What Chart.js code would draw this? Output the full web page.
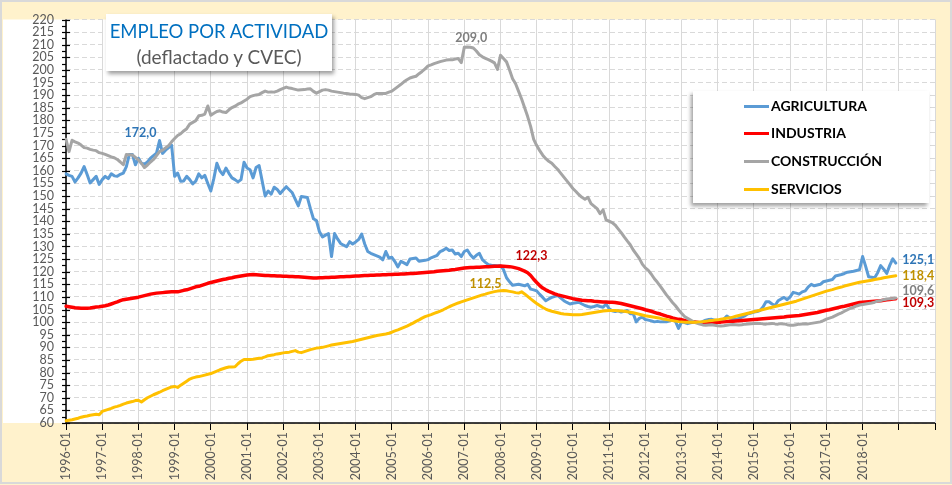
<!DOCTYPE html>
<html>
<head>
<meta charset="utf-8">
<script src="https://cdn.jsdelivr.net/npm/chart.js@4.4.1/dist/chart.umd.min.js"></script>
<style>
html,body{margin:0;padding:0;background:#ffffff;}
#wrap{position:relative;width:952px;height:485px;overflow:hidden;}
#chart{position:absolute;left:0;top:0;}
#titlebox{position:absolute;left:106px;top:14px;width:226px;height:57px;background:#ffffff;
  box-shadow:2px 3px 4px rgba(0,0,0,0.38);font-family:Lato,sans-serif;text-align:center;}
#t1{position:absolute;left:0;top:6px;width:100%;height:22px;line-height:22px;font-size:18.5px;color:#0070C0;white-space:nowrap;}
#t2{position:absolute;left:0;top:31px;width:100%;height:24px;line-height:24px;font-size:19px;color:#595959;white-space:nowrap;}
#legend{position:absolute;left:693px;top:91px;width:236px;height:112px;background:#ffffff;
  box-shadow:-2px 3px 4px rgba(0,0,0,0.38);font-family:Lato,sans-serif;}
.li{position:absolute;left:0;width:100%;height:20px;}
.ls{position:absolute;left:51px;top:8.5px;width:25px;height:3px;}
.lt{position:absolute;left:78px;top:0;height:20px;line-height:20px;font-size:14px;font-weight:bold;color:#000;white-space:nowrap;}
</style>
</head>
<body>
<div id="wrap">
  <canvas id="chart" width="952" height="485"></canvas>
  <div id="titlebox"><div id="t1">EMPLEO POR ACTIVIDAD</div><div id="t2">(deflactado y CVEC)</div></div>
  <div id="legend"></div>
</div>
<script>
// ---- categories ----
const years = [1996,1997,1998,1999,2000,2001,2002,2003,2004,2005,2006,2007,2008,2009,2010,2011,2012,2013,2014,2015,2016,2017,2018,2019];
const months = ['01','02','03','04','05','06','07','08','09','10','11','12'];
const categories = [];
years.forEach(y => months.forEach(m => categories.push(y + '-' + m)));
categories.push('2020-01');

// ---- tick labels shown ----
const tickLabels = ['1996-01','1997-01','1998-01','1999-01','2000-01','2001-01','2002-01','2003-01','2004-01','2005-01','2006-01','2007-01','2008-01','2009-01','2010-01','2011-01','2012-01','2013-01','2014-01','2015-01','2016-01','2017-01','2018-01'];

// ---- series (monthly, 1996-01 .. 2018-12) ----
const agricultura = [
158.8,158.2,157.8,155.6,157.2,159.1,161.7,158.5,155.2,156.5,157.8,154.6,
156.5,157.8,156.9,158.8,158.0,157.8,158.6,159.1,161.7,166.5,166.5,162.4,
165.0,163.0,162.6,163.5,165.0,166.0,167.0,172.0,166.9,168.2,169.2,170.2,
157.8,159.1,155.9,156.0,157.8,156.5,154.8,155.9,158.8,157.2,158.2,155.0,
152.0,157.0,163.0,160.0,158.5,161.1,159.0,157.2,156.5,155.6,156.5,163.4,
161.1,160.4,157.2,161.3,162.1,156.0,150.0,152.0,150.7,153.5,152.6,151.0,
152.4,153.7,152.5,151.3,148.7,146.1,149.8,149.6,149.4,145.0,141.0,140.3,
135.8,133.8,134.5,135.1,126.0,135.1,133.0,131.2,130.5,129.9,131.9,131.0,
131.8,132.8,134.9,131.0,128.0,127.3,126.8,126.3,125.8,124.7,128.0,125.4,
125.7,124.0,121.9,124.1,123.5,122.8,125.0,125.2,125.4,124.1,124.3,124.5,
124.8,125.5,126.0,126.5,128.0,128.5,129.3,128.4,128.6,127.0,127.3,126.0,
128.0,128.6,126.7,125.4,126.5,127.3,124.8,123.7,122.8,122.6,122.5,122.4,
122.4,120.8,117.6,116.0,114.6,114.8,115.0,114.7,114.4,115.0,113.1,112.8,
112.4,111.0,109.8,108.5,109.2,109.8,110.2,110.5,109.5,108.5,107.8,107.2,
107.5,107.7,107.9,107.2,106.6,106.2,105.9,106.2,106.6,106.2,105.9,107.2,
105.3,104.5,104.2,104.5,104.0,104.3,104.6,103.3,103.3,100.1,101.5,102.0,
101.0,100.8,100.5,100.1,100.3,100.1,100.2,100.1,100.5,100.8,100.3,97.5,
100.1,99.8,99.4,99.7,100.1,99.9,99.7,100.2,100.8,101.0,101.1,100.8,
100.4,100.8,101.1,102.4,101.6,101.4,101.1,101.5,102.0,102.5,103.3,103.6,
104.0,104.2,104.6,106.0,108.1,108.1,107.2,106.6,108.5,109.2,109.8,108.9,
110.0,111.8,111.5,111.1,112.0,112.4,114.0,115.0,114.4,114.7,115.0,116.0,
116.3,116.6,116.9,118.3,118.6,118.9,119.3,119.8,120.0,120.2,120.5,120.8,
126.0,122.2,118.0,117.8,117.6,119.6,122.4,121.0,119.3,122.5,125.1,123.4
];
const industria = [
106.3,106.1,105.9,105.7,105.6,105.5,105.5,105.5,105.6,105.8,106.0,106.1,
106.3,106.5,106.8,107.2,107.6,108.0,108.5,108.9,109.1,109.3,109.5,109.7,
109.9,110.2,110.5,110.8,111.1,111.3,111.5,111.6,111.7,111.8,111.9,112.0,
112.0,112.0,112.3,112.6,112.8,113.2,113.6,114.0,114.2,114.6,115.0,115.4,
115.7,116.0,116.3,116.6,116.9,117.1,117.4,117.6,117.9,118.1,118.3,118.5,
118.7,118.8,118.9,118.8,118.7,118.6,118.5,118.5,118.4,118.4,118.3,118.3,
118.2,118.2,118.1,118.1,118.0,118.0,117.9,117.8,117.7,117.6,117.5,117.5,
117.6,117.6,117.7,117.7,117.8,117.8,117.9,118.0,118.0,118.1,118.1,118.2,
118.3,118.3,118.4,118.5,118.5,118.6,118.6,118.7,118.7,118.8,118.8,118.9,
118.9,119.0,119.0,119.1,119.1,119.2,119.3,119.3,119.4,119.5,119.6,119.7,
119.8,119.9,120.0,120.2,120.3,120.4,120.5,120.6,120.8,120.9,121.1,121.3,
121.5,121.6,121.7,121.7,121.8,121.8,121.9,122.0,122.0,122.1,122.2,122.2,
122.3,122.2,122.1,122.0,121.8,121.5,121.2,120.7,120.2,119.6,118.5,117.0,
115.7,114.5,113.5,112.8,112.2,111.7,111.2,110.8,110.5,110.2,109.9,109.6,
109.3,109.1,108.9,108.7,108.6,108.5,108.5,108.3,108.2,108.1,108.0,108.0,
107.9,107.9,107.8,107.6,107.4,107.1,106.8,106.5,106.2,105.9,105.6,105.3,
104.9,104.6,104.3,103.9,103.5,103.2,102.8,102.4,102.1,101.7,101.4,101.1,
101.0,100.7,100.4,100.2,100.1,100.0,99.8,99.7,99.7,99.7,99.8,99.9,
100.0,100.0,100.1,100.2,100.3,100.3,100.4,100.5,100.6,100.7,100.8,100.9,
101.0,101.1,101.2,101.3,101.4,101.5,101.6,101.7,101.8,101.9,102.0,102.2,
102.3,102.4,102.5,102.6,102.8,103.0,103.2,103.4,103.6,103.8,104.1,104.4,
104.7,104.9,105.2,105.5,105.8,106.1,106.3,106.6,106.9,107.2,107.5,107.8,
107.9,108.0,108.1,108.2,108.3,108.4,108.5,108.7,108.9,109.0,109.2,109.3
];
const construccion = [
172.5,167.6,172.1,171.5,171.0,170.2,169.2,169.0,168.5,168.2,168.0,167.2,
166.9,166.5,166.0,165.5,165.2,164.5,163.5,162.4,166.5,166.4,166.3,165.3,
164.3,163.0,161.3,162.3,163.5,164.5,166.0,167.6,168.2,169.1,170.0,171.5,
172.8,174.0,174.7,175.8,176.7,178.5,179.2,179.9,181.8,182.0,182.5,185.7,
182.0,182.8,183.5,183.8,183.3,183.1,184.2,185.1,185.6,186.4,186.9,187.7,
188.4,189.4,189.8,190.1,190.3,191.0,191.6,191.2,191.3,191.2,191.6,192.2,
192.7,193.2,192.8,192.6,192.3,192.0,192.1,192.2,192.4,192.5,191.5,190.8,
191.4,192.0,192.2,192.0,191.6,191.4,191.2,191.0,190.8,190.7,190.5,190.4,
190.3,190.0,189.0,188.6,189.0,189.4,190.2,190.7,190.7,190.7,190.7,191.2,
191.6,192.5,193.4,194.3,195.3,196.1,196.8,197.2,197.5,198.5,199.4,200.4,
201.6,202.0,202.5,202.9,203.3,203.6,203.9,204.0,204.0,204.3,204.5,202.9,
209.0,209.1,209.0,208.7,207.5,206.0,205.2,204.6,204.1,203.5,202.8,200.2,
205.8,204.5,203.2,200.0,196.5,194.5,191.5,188.5,185.0,181.5,177.5,172.5,
170.0,168.0,166.2,164.8,163.8,163.0,161.7,160.5,159.0,157.5,156.0,154.5,
153.0,151.8,150.5,149.5,148.7,149.5,147.0,146.0,145.0,143.0,144.5,140.5,
140.0,139.5,138.5,137.0,135.5,133.8,132.2,130.7,128.6,127.0,125.3,123.0,
121.5,120.5,119.0,117.2,115.8,114.2,112.5,110.8,109.3,107.8,106.5,104.9,
103.5,102.2,101.5,100.8,100.1,99.6,99.2,98.9,98.8,98.9,99.0,98.8,
98.6,98.5,98.6,98.8,99.0,99.1,99.0,98.9,99.0,99.2,99.3,99.4,
99.5,99.6,99.5,99.3,99.2,99.4,99.5,99.3,99.2,99.4,99.3,99.0,
98.8,98.8,99.0,99.2,99.3,99.4,99.3,99.5,99.7,99.9,100.1,100.6,
101.2,101.6,102.0,102.6,103.2,103.7,104.3,104.9,105.5,105.9,106.4,106.8,
107.0,107.2,107.4,107.6,107.9,108.3,108.5,108.9,109.2,109.3,109.4,109.6
];
const servicios = [
60.9,61.1,61.3,61.6,61.9,62.3,62.6,62.8,63.1,63.3,63.5,63.3,
64.6,65.0,65.4,65.8,66.3,66.6,67.0,67.5,67.9,68.2,68.5,68.9,
69.0,68.3,69.2,70.0,70.6,71.2,71.7,72.2,72.8,73.3,73.8,74.3,
74.5,74.1,75.0,75.8,76.6,77.4,77.9,78.2,78.4,78.7,79.0,79.3,
79.6,80.1,80.6,81.1,81.5,81.9,82.2,82.2,82.3,83.5,84.5,85.2,
85.2,85.2,85.3,85.5,85.7,85.8,86.2,86.7,86.9,87.1,87.4,87.6,
87.8,88.0,88.1,88.4,88.7,88.1,87.9,88.3,88.7,89.1,89.4,89.7,
89.8,90.0,90.3,90.6,90.9,91.1,91.3,91.5,91.7,91.9,92.1,92.3,
92.6,92.9,93.2,93.5,93.8,94.1,94.4,94.7,94.9,95.1,95.3,95.6,
96.0,96.5,96.9,97.4,97.9,98.4,99.0,99.6,100.3,100.9,101.6,102.2,
102.6,103.0,103.5,103.9,104.4,104.9,105.5,106.1,106.6,107.1,107.6,108.0,
108.4,108.8,109.2,109.6,110.0,110.4,110.8,111.1,111.5,111.8,112.1,112.3,
112.4,112.5,112.4,112.2,112.0,111.7,111.5,112.0,111.2,110.2,109.2,108.3,
107.4,106.6,105.8,105.2,104.7,104.3,104.0,103.7,103.4,103.2,103.1,103.0,
102.9,102.9,102.9,103.0,103.2,103.4,103.6,103.8,104.0,104.2,104.4,104.5,
104.6,104.6,104.6,104.5,104.4,104.3,104.1,103.9,103.7,103.4,103.1,102.8,
102.5,102.3,102.1,101.9,101.7,101.5,101.2,101.0,100.8,100.6,100.4,100.2,
100.1,100.0,100.0,100.0,100.0,100.0,100.1,100.2,100.3,100.5,100.6,100.8,
100.9,101.1,101.3,101.5,101.7,102.0,102.3,102.6,102.9,103.2,103.5,103.8,
104.1,104.4,104.7,105.0,105.3,105.6,105.9,106.2,106.5,106.8,107.1,107.4,
107.7,108.0,108.3,108.7,109.1,109.5,109.9,110.3,110.7,111.1,111.5,111.9,
112.3,112.6,112.9,113.3,113.6,113.9,114.3,114.6,114.9,115.2,115.5,115.8,
116.0,116.2,116.4,116.6,116.9,117.1,117.3,117.6,117.8,118.0,118.2,118.4
];

// ---- series names / colours ----
const seriesNames = ['AGRICULTURA','INDUSTRIA','CONSTRUCCIÓN','SERVICIOS'];
const seriesColors = ['#5B9BD5','#FF0000','#A5A5A5','#FFC000'];

// ---- value labels: [series index, point index, text, colour, align, dx, dy] ----
const valueLabels = [
  [0, 31, '172,0', '#2E75B6', 'center', -19, -8],
  [2, 133, '209,0', '#7F7F7F', 'center', 4, -9],
  [1, 144, '122,3', '#C00000', 'center', 31, -10],
  [3, 145, '112,5', '#BF9000', 'center', -18, -7],
  [0, 275, '125,1', '#2E75B6', 'left', 6.5, -3],
  [3, 275, '118,4', '#BF9000', 'left', 6.5, 0],
  [2, 275, '109,6', '#7F7F7F', 'left', 6.5, -7],
  [1, 275, '109,3', '#C00000', 'left', 6.5, 4.5]
];

// legend (HTML)
const legendRowsTop = [96, 123, 151, 179];
const lg = document.getElementById('legend');
seriesNames.forEach((n, i) => {
  const row = document.createElement('div');
  row.className = 'li';
  row.style.top = (legendRowsTop[i] - 91) + 'px';
  const s = document.createElement('span'); s.className = 'ls'; s.style.background = seriesColors[i];
  const t = document.createElement('span'); t.className = 'lt'; t.textContent = n;
  row.appendChild(s); row.appendChild(t); lg.appendChild(row);
});

const bgPlugin = {
  id: 'bgPlugin',
  beforeDraw(chart) {
    const {ctx, chartArea} = chart;
    ctx.save();
    ctx.fillStyle = '#FFF2CC';
    ctx.fillRect(0, 0, chart.width, chart.height);
    ctx.fillStyle = '#FFFFFF';
    ctx.fillRect(3, chartArea.top, chartArea.right - 3, chartArea.bottom - chartArea.top);
    ctx.strokeStyle = '#D9D9D9';
    ctx.lineWidth = 2;
    ctx.strokeRect(1, 1, chart.width - 2, chart.height - 3);
    ctx.restore();
  }
};

const axisPlugin = {
  id: 'axisPlugin',
  beforeDatasetsDraw(chart) {
    const {ctx, chartArea, scales} = chart;
    const {left, right, top, bottom} = chartArea;
    ctx.save();
    ctx.strokeStyle = '#000000';
    ctx.lineWidth = 1.5;
    ctx.beginPath();
    ctx.moveTo(left, top);
    ctx.lineTo(left, bottom);
    ctx.lineTo(right, bottom);
    ctx.stroke();
    ctx.lineWidth = 1.2;
    const y = scales.y;
    for (let v = 60; v <= 220; v += 2.5) {
      const py = Math.round(y.getPixelForValue(v)) + 0.5;
      const major = (v % 5 === 0);
      ctx.beginPath();
      ctx.moveTo(left - 4, py);
      ctx.lineTo(left + (major ? 4 : 0), py);
      ctx.stroke();
    }
    ctx.restore();
  }
};

const labelPlugin = {
  id: 'labelPlugin',
  afterDatasetsDraw(chart) {
    const ctx = chart.ctx;
    ctx.save();
    ctx.font = 'bold 12.5px Lato';
    ctx.textBaseline = 'middle';
    valueLabels.forEach(([ds, idx, text, color, align, dx, dy]) => {
      const pt = chart.getDatasetMeta(ds).data[idx];
      if (!pt) return;
      ctx.fillStyle = color;
      ctx.textAlign = align;
      ctx.fillText(text, pt.x + dx, pt.y + dy);
    });
    ctx.restore();
  }
};

const dataSets = [agricultura, industria, construccion, servicios];
const widths = [3, 3.5, 3, 3];

new Chart(document.getElementById('chart'), {
  type: 'line',
  data: {
    labels: categories,
    datasets: dataSets.map((d, i) => ({
      label: seriesNames[i],
      data: d,
      borderColor: seriesColors[i],
      backgroundColor: seriesColors[i],
      borderWidth: widths[i],
      pointRadius: 0,
      pointHoverRadius: 0,
      tension: 0,
      fill: false,
      borderJoinStyle: 'round',
      borderCapStyle: 'round',
      order: 4 - i
    }))
  },
  options: {
    responsive: false,
    devicePixelRatio: 1,
    animation: false,
    events: [],
    layout: {padding: {left: 0, right: 14, top: 12, bottom: 0}},
    plugins: {legend: {display: false}, tooltip: {enabled: false}, title: {display: false}},
    scales: {
      x: {
        type: 'category',
        offset: false,
        border: {display: false},
        grid: {
          color: c => (c.index % 12 === 0 ? '#D9D9D9' : 'rgba(0,0,0,0)'),
          tickColor: c => (c.index % 12 === 0 ? '#000000' : 'rgba(0,0,0,0)'),
          tickLength: 7,
          lineWidth: 1
        },
        ticks: {
          autoSkip: false,
          maxRotation: 90,
          minRotation: 90,
          padding: 2,
          color: '#595959',
          font: {family: 'Lato', size: 12.5},
          callback: function(v) {
            const l = this.getLabelForValue(v);
            return tickLabels.includes(l) ? l : '';
          }
        },
        afterFit: s => { s.height = 62; }
      },
      y: {
        min: 60,
        max: 220,
        border: {display: false, dash: [5, 3]},
        grid: {color: '#D9D9D9', drawTicks: false, lineWidth: 1},
        ticks: {stepSize: 5, autoSkip: false, padding: 12, color: '#595959', font: {family: 'Lato', size: 12.5}},
        afterFit: s => { s.width = 66; }
      }
    }
  },
  plugins: [bgPlugin, axisPlugin, labelPlugin]
});
</script>
</body>
</html>
